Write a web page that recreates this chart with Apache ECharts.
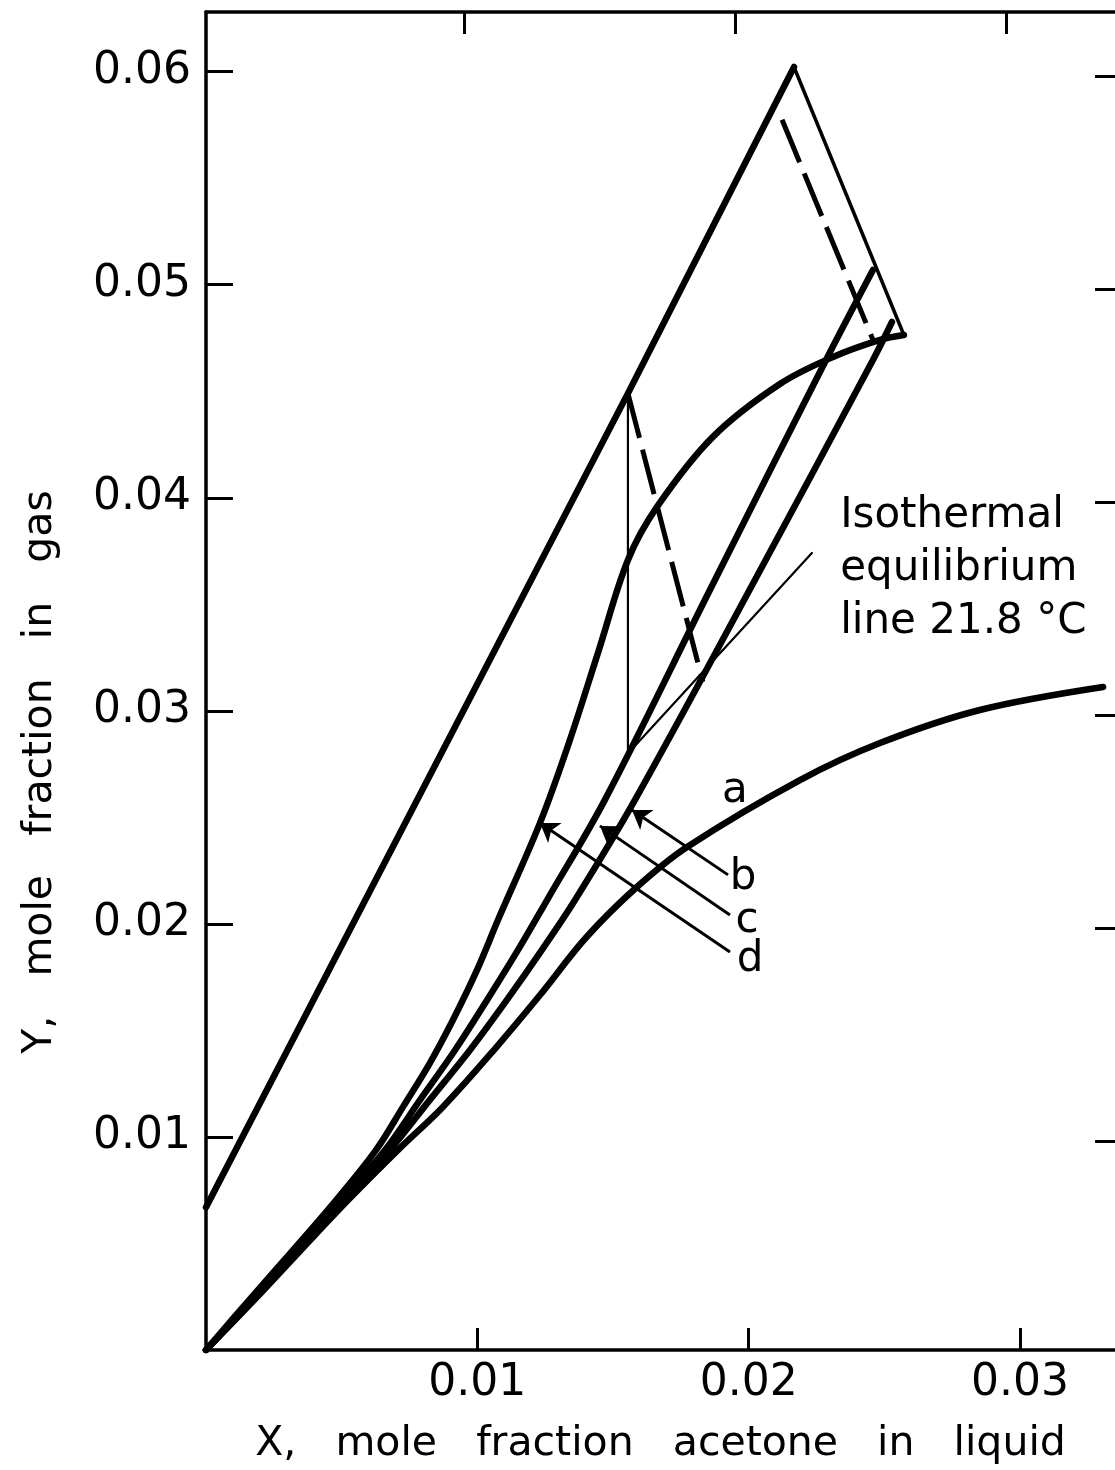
<!DOCTYPE html>
<html>
<head>
<meta charset="utf-8">
<title>Acetone absorption: operating lines and equilibrium curves</title>
<script src="https://cdn.jsdelivr.net/npm/echarts@6/dist/echarts.min.js"></script>
<style>
    html, body { margin: 0; padding: 0; background: #fff; }
    #chart { width: 1115px; height: 1470px; }
</style>
</head>
<body>
<div id="chart"></div>
<script>
// X = mole fraction acetone in liquid, Y = mole fraction in gas
const xTickValues = [0.01, 0.02, 0.03];
const yTickValues = [0.01, 0.02, 0.03, 0.04, 0.05, 0.06];

// heavy upper line from the Y axis up to the apex
const topLine = [[0, 0.0067], [0.01555, 0.0449], [0.02167, 0.06022]];
// apex down to the right-hand corner
const apexLine = [[0.02167, 0.06022], [0.02572, 0.04764]];
// dashed tie lines
const dashUpper = [[0.02123, 0.05774], [0.02458, 0.04741]];
const dashLower = [[0.01555, 0.0449], [0.01831, 0.03136]];
// thin vertical line and the thin isothermal equilibrium segment
const vertLine = [[0.01555, 0.0449], [0.01555, 0.0280]];
const isoLine = [[0.01555, 0.0280], [0.02233, 0.03741]];

// curve d (S shaped, bends over at the top)
const curveD = [
    [0, 0], [0.00162, 0.00239], [0.00328, 0.00479], [0.00486, 0.00713], [0.00627, 0.00939],
    [0.00726, 0.01141], [0.00825, 0.01347], [0.00910, 0.01549], [0.00999, 0.01784],
    [0.01076, 0.02018], [0.01231, 0.02474], [0.01341, 0.02863], [0.01448, 0.03286],
    [0.01555, 0.03708], [0.01662, 0.03957], [0.01868, 0.04286], [0.02115, 0.04534],
    [0.02311, 0.04661], [0.02484, 0.04741], [0.02572, 0.04764]
];
// curve c
const curveC = [
    [0, 0], [0.00170, 0.00239], [0.00339, 0.00479], [0.00505, 0.00713], [0.00660, 0.00939],
    [0.00789, 0.01174], [0.00918, 0.01408], [0.01036, 0.01643], [0.01150, 0.01878],
    [0.01257, 0.02112], [0.01470, 0.02582], [0.01857, 0.03567], [0.02285, 0.04647],
    [0.02458, 0.05069]
];
// curve b
const curveB = [
    [0, 0], [0.00173, 0.00239], [0.00346, 0.00479], [0.00516, 0.00713], [0.00678, 0.00939],
    [0.00825, 0.01174], [0.00973, 0.01408], [0.01109, 0.01643], [0.01238, 0.01878],
    [0.01360, 0.02112], [0.01581, 0.02582], [0.02023, 0.03614], [0.02458, 0.04647],
    [0.02528, 0.04825]
];
// curve a (lowest)
const curveA = [
    [0, 0], [0.00181, 0.00239], [0.00357, 0.00479], [0.00531, 0.00713], [0.00708, 0.00939],
    [0.00873, 0.01141], [0.01061, 0.01408], [0.01231, 0.01666], [0.01400, 0.01935],
    [0.01588, 0.02173], [0.01773, 0.02361], [0.02189, 0.02675], [0.02484, 0.02849],
    [0.02852, 0.03004], [0.03306, 0.03112]
];

// leader arrows from the letters to the curves: [from, to]
const arrowB = [[0.01924, 0.02230], [0.01570, 0.02535]];
const arrowC = [[0.01931, 0.02042], [0.01452, 0.02460]];
const arrowD = [[0.01931, 0.01868], [0.01231, 0.02474]];

const curveNames = ['a', 'b', 'c', 'd'];
const curveNameAt = [[0.01949, 0.02624], [0.01979, 0.02216], [0.01994, 0.02014], [0.02005, 0.01831]];

const noteText = 'Isothermal\nequilibrium\nline 21.8 °C';
const noteAt = [0.02337, 0.03666];

const ink = '#000';
const font = 'DejaVu Sans';

const plain = (data, width, extra) => Object.assign({
    type: 'line',
    data: data,
    symbol: 'none',
    silent: true,
    lineStyle: { color: ink, width: width, cap: 'round', join: 'round' }
}, extra || {});

const curve = (data) => plain(data, 6.5, { smooth: 0.35 });

const dashed = (data) => plain(data, 5, {
    lineStyle: { color: ink, width: 5, type: [46, 12], cap: 'butt' }
});

const textLabel = (extra) => Object.assign({
    show: true, position: 'inside',
    fontFamily: font, fontSize: 42, color: ink, opacity: 1,
    textBorderWidth: 0
}, extra);

const tickStyle = (len) => ({
    show: true, inside: true, length: len, lineStyle: { color: ink, width: 3 }
});

const chart = echarts.init(document.getElementById('chart'));
chart.setOption({
    animation: false,
    backgroundColor: '#fff',
    grid: { left: 206, right: 0, top: 12, bottom: 120, containLabel: false },
    xAxis: [
        {
            type: 'value', position: 'bottom',
            min: 0, max: 0.0335, interval: 0.01,
            name: 'X,   mole   fraction   acetone   in   liquid',
            nameLocation: 'middle', nameGap: 74,
            nameTextStyle: { fontFamily: font, fontSize: 41, color: ink },
            axisLine: { onZero: false, lineStyle: { color: ink, width: 3.5 } },
            axisTick: Object.assign(tickStyle(22), { customValues: xTickValues }),
            axisLabel: {
                customValues: xTickValues,
                margin: 12, fontFamily: font, fontSize: 44, color: ink,
                formatter: v => v.toFixed(2)
            },
            splitLine: { show: false }
        },
        {
            // the scanned frame is slightly skewed: top ticks sit a little left
            type: 'value', position: 'top',
            min: 0.0005, max: 0.034,
            axisLine: { onZero: false, lineStyle: { color: ink, width: 3.5 } },
            axisTick: Object.assign(tickStyle(22), { customValues: xTickValues }),
            axisLabel: { show: false },
            splitLine: { show: false }
        }
    ],
    yAxis: [
        {
            type: 'value', position: 'left',
            min: 0, max: 0.0628, interval: 0.01,
            axisLine: { show: true, onZero: false, lineStyle: { color: ink, width: 3.5 } },
            axisTick: Object.assign(tickStyle(27), { customValues: yTickValues }),
            axisLabel: {
                customValues: yTickValues,
                margin: 15, fontFamily: font, fontSize: 44, color: ink,
                formatter: v => v.toFixed(2)
            },
            splitLine: { show: false }
        },
        {
            type: 'value', position: 'right',
            min: 0.0002, max: 0.063,
            axisLine: { show: false, onZero: false },
            axisTick: Object.assign(tickStyle(20), { customValues: yTickValues }),
            axisLabel: { show: false },
            splitLine: { show: false }
        }
    ],
    graphic: [{
        type: 'text',
        x: 40, y: 772,
        rotation: Math.PI / 2,
        style: {
            text: 'Y,   mole   fraction   in   gas',
            fontFamily: font, fontSize: 41, fill: ink,
            align: 'center', verticalAlign: 'middle'
        }
    }],
    series: [
        plain(topLine, 6.5),
        plain(apexLine, 3.5),
        dashed(dashUpper),
        dashed(dashLower),
        plain(vertLine, 2.2),
        plain(isoLine, 2.2),
        curve(curveD),
        curve(curveC),
        curve(curveB),
        curve(curveA),
        {
            type: 'lines',
            coordinateSystem: 'cartesian2d',
            silent: true,
            symbol: ['none', 'arrow'],
            symbolSize: 18,
            lineStyle: { color: ink, width: 3, opacity: 1, curveness: 0 },
            data: [arrowB, arrowC, arrowD].map(c => ({ coords: c }))
        },
        {
            type: 'scatter',
            silent: true,
            symbolSize: 0,
            itemStyle: { opacity: 1 },
            data: curveNames.map((n, i) => [curveNameAt[i][0], curveNameAt[i][1], n]),
            label: textLabel({ formatter: p => p.data[2] })
        },
        {
            type: 'scatter',
            silent: true,
            symbolSize: 0,
            itemStyle: { opacity: 1 },
            data: [[noteAt[0], noteAt[1]]],
            label: textLabel({
                align: 'left', verticalAlign: 'middle',
                formatter: noteText, lineHeight: 53
            })
        }
    ]
});
</script>
</body>
</html>
